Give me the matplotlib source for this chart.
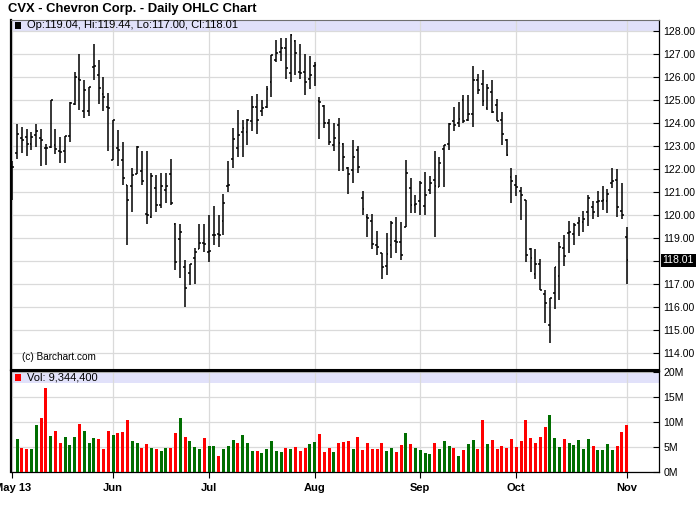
import matplotlib
matplotlib.use("Agg")
import matplotlib.pyplot as plt
from matplotlib.patches import Rectangle
from matplotlib.transforms import blended_transform_factory
import numpy as np

plt.rcParams["font.family"] = ["Liberation Sans", "DejaVu Sans"]

TITLE = "CVX - Chevron Corp. - Daily OHLC Chart"
MONTH_POS = [0, 21, 41, 63, 85, 105, 128]
MONTH_LABELS = ["May 13", "Jun", "Jul", "Aug", "Sep", "Oct", "Nov"]

OPENS = [
    121.01, 122.69, 123.35, 123.38, 123.06, 123.44, 123.35, 122.88, 122.94, 123.01,
    122.76, 122.76, 123.42, 124.81, 125.90, 124.52, 124.52, 126.42, 126.09, 125.25,
    124.69, 122.38, 122.91, 122.37, 121.29, 121.25, 121.77, 121.89, 120.01, 119.91,
    121.16, 120.43, 121.06, 121.77, 119.58, 118.94, 117.72, 117.47, 118.12, 118.50,
    118.77, 118.38, 119.10, 119.16, 119.70, 121.23, 122.40, 122.88, 123.57, 123.57,
    124.08, 124.69, 124.52, 124.66, 125.76, 126.74, 127.07, 127.26, 126.15, 127.55,
    126.20, 126.20, 125.90, 126.44, 124.93, 124.74, 124.00, 123.03, 123.89, 123.06,
    122.03, 121.92, 122.79, 120.72, 119.91, 119.70, 118.67, 118.31, 117.75, 118.67,
    118.85, 118.82, 119.48, 121.16, 120.43, 120.57, 120.35, 121.08, 121.52, 121.20,
    122.84, 123.06, 124.08, 123.96, 124.98, 124.11, 124.37, 125.86, 125.69, 124.63,
    125.32, 124.78, 124.11, 123.25, 121.62, 121.27, 121.04, 120.62, 118.50, 117.40,
    117.87, 116.56, 115.20, 116.59, 117.33, 118.56, 119.18, 119.14, 119.62, 119.67,
    120.13, 120.31, 120.54, 120.57, 120.57, 121.37, 121.52, 120.16, 119.04,
]
HIGHS = [
    122.32, 123.93, 123.82, 123.71, 123.60, 123.93, 123.70, 123.08, 125.00, 123.71,
    123.38, 123.42, 124.88, 126.21, 127.00, 125.83, 125.54, 127.41, 126.74, 126.00,
    125.30, 124.13, 123.67, 123.14, 121.29, 122.02, 122.98, 122.76, 122.76, 121.81,
    121.74, 121.81, 121.79, 122.43, 119.62, 119.58, 118.02, 117.87, 118.53, 119.58,
    119.58, 120.00, 120.37, 120.00, 120.90, 122.32, 123.76, 124.54, 124.11, 124.15,
    125.16, 125.25, 125.00, 125.61, 126.93, 127.61, 127.66, 127.66, 127.85, 127.61,
    127.41, 126.97, 126.88, 126.63, 125.10, 124.76, 124.15, 123.96, 124.19, 123.10,
    122.06, 123.24, 122.98, 121.01, 120.02, 120.02, 119.30, 118.32, 119.21, 119.72,
    119.91, 119.67, 122.37, 121.59, 120.86, 121.48, 121.86, 121.67, 122.76, 122.50,
    123.03, 124.00, 124.66, 124.88, 125.22, 125.22, 126.44, 126.12, 126.27, 125.66,
    125.86, 125.03, 124.47, 123.27, 122.03, 121.74, 121.19, 120.65, 118.56, 118.50,
    118.06, 116.70, 116.37, 117.73, 118.80, 119.09, 119.72, 119.62, 119.88, 120.16,
    120.83, 120.60, 121.04, 121.23, 121.13, 122.03, 122.00, 121.38, 119.44,
]
LOWS = [
    120.64, 122.43, 122.69, 122.53, 122.81, 122.95, 122.12, 122.16, 122.91, 122.62,
    122.25, 122.25, 123.17, 124.78, 124.56, 124.20, 124.30, 125.83, 124.81, 124.52,
    122.76, 122.38, 122.10, 121.29, 118.67, 120.10, 121.77, 121.29, 119.58, 119.83,
    120.09, 120.28, 120.52, 120.43, 117.58, 117.26, 115.99, 116.92, 117.00, 118.50,
    118.38, 117.94, 118.67, 118.57, 119.11, 120.98, 122.03, 122.50, 122.50, 123.03,
    123.64, 123.52, 124.30, 124.63, 125.10, 126.63, 126.68, 125.90, 125.76, 126.08,
    125.90, 125.20, 125.47, 125.61, 123.30, 123.76, 123.01, 122.76, 121.89, 121.89,
    120.89, 121.37, 121.81, 119.99, 119.01, 118.50, 118.26, 117.21, 117.39, 118.09,
    118.31, 118.04, 119.48, 120.06, 120.06, 119.96, 119.96, 120.89, 119.01, 121.20,
    121.20, 122.79, 123.64, 123.79, 124.00, 124.08, 123.79, 125.25, 124.74, 124.56,
    124.41, 124.08, 123.01, 122.54, 120.50, 120.79, 119.77, 117.94, 117.48, 117.19,
    116.70, 115.29, 114.41, 115.90, 116.30, 117.76, 118.31, 118.67, 119.08, 119.26,
    119.50, 119.80, 119.90, 120.20, 120.06, 121.16, 119.90, 119.81, 117.00,
]
CLOSES = [
    122.08, 123.49, 123.23, 123.06, 123.38, 123.64, 123.24, 122.91, 124.99, 122.84,
    122.70, 123.40, 124.84, 125.98, 125.86, 125.42, 125.54, 126.44, 125.51, 125.13,
    124.63, 124.10, 122.79, 121.59, 120.62, 121.71, 122.94, 121.48, 119.96, 121.67,
    120.43, 121.23, 121.23, 120.50, 117.94, 119.26, 116.80, 117.83, 118.35, 118.75,
    118.70, 118.40, 119.13, 119.10, 120.50, 121.30, 123.27, 123.44, 123.76, 124.11,
    124.69, 124.11, 124.63, 125.47, 126.93, 127.03, 127.26, 126.39, 127.80, 127.03,
    126.15, 125.76, 126.05, 126.49, 124.88, 123.98, 123.17, 123.35, 123.10, 122.50,
    121.77, 122.50, 122.06, 120.25, 119.87, 118.70, 118.60, 117.71, 118.28, 119.62,
    118.82, 118.26, 121.81, 120.40, 120.46, 121.37, 120.86, 121.37, 121.23, 122.22,
    123.03, 123.93, 123.89, 124.15, 124.05, 124.37, 125.83, 125.42, 124.95, 125.51,
    124.47, 124.08, 123.49, 122.59, 121.48, 121.19, 120.83, 118.23, 118.12, 117.85,
    116.70, 116.15, 116.37, 117.70, 118.60, 118.18, 119.26, 119.55, 119.70, 119.81,
    120.72, 120.13, 120.60, 120.64, 120.91, 121.48, 120.31, 119.96, 118.01,
]

# volume in millions, bars 1..128 (first price bar has no volume bar)
VOLUMES = [
    6.47, 4.67, 4.47, 4.47, 9.27, 10.67, 16.87, 7.07, 8.07, 5.67,
    6.87, 5.27, 6.87, 9.47, 8.07, 5.67, 6.67, 6.47, 4.47, 8.07,
    7.27, 7.67, 7.87, 10.27, 6.07, 5.67, 4.67, 5.47, 4.67, 4.47,
    4.07, 4.67, 4.67, 7.67, 10.67, 6.87, 6.07, 4.87, 4.47, 6.67,
    5.07, 5.07, 3.07, 4.47, 5.07, 6.27, 5.67, 7.27, 5.67, 4.07,
    4.07, 3.67, 4.47, 6.07, 4.07, 3.87, 4.67, 4.47, 4.87, 4.07,
    4.67, 5.47, 5.87, 7.47, 3.87, 4.67, 3.87, 5.67, 5.87, 6.07,
    4.47, 6.87, 4.27, 5.67, 4.47, 4.47, 5.67, 4.07, 4.67, 3.87,
    5.27, 7.67, 5.47, 4.67, 4.27, 3.67, 3.47, 5.67, 4.47, 6.07,
    5.07, 4.67, 3.07, 4.27, 5.47, 6.27, 4.47, 10.27, 5.47, 6.27,
    4.47, 5.07, 4.67, 6.47, 4.87, 6.07, 10.27, 6.67, 5.67, 6.87,
    8.87, 11.27, 6.67, 4.87, 6.47, 5.67, 5.27, 6.27, 4.47, 6.47,
    5.07, 4.27, 4.27, 5.47, 4.27, 5.07, 7.87, 9.3444,
]
# g = up day (green), r = down day (red), same order as VOLUMES
VOL_COLORS = [
    "grrggrrgrr", "gggrgggrrr", "grrrggrrgr", "ggrrgrgggr", "ggrgggrggg",
    "rgggggrgrr", "rggrrrgrrr", "grrrrrrggr", "rgrggggrgg", "grgrggrrgr",
    "rrrrrrrrrr", "rgggrggggg", "rggggrrr",
]
VOL_LABEL = "Vol: 9,344,400"

GREEN = "#006e00"
RED = "#ff0000"
GRID = "#dadada"
BAND = "#e1e1fa"
W, H = 700, 512


def fx(x):
    return x / W


def fy(y):
    return 1 - y / H


def draw_price(ax):
    x = np.arange(len(OPENS))
    ax.axhspan(128.0, 128.46, color=BAND, zorder=0, lw=0)
    ax.vlines(x, LOWS, HIGHS, color="black", lw=1.1, zorder=3)
    ax.hlines(OPENS, x - 0.38, x, color="black", lw=1.1, zorder=3)
    ax.hlines(CLOSES, x, x + 0.38, color="black", lw=1.1, zorder=3)

    ax.set_xlim(-0.33, 134.8)
    ax.set_ylim(113.24, 128.46)
    ticks = list(range(114, 129))
    ax.set_yticks(ticks)
    ax.set_yticklabels(["" if t == 118 else f"{t:.2f}" for t in ticks])
    ax.yaxis.tick_right()
    ax.tick_params(axis="y", direction="in", length=4, width=0.8, labelsize=7.6, pad=3)
    ax.set_xticks(MONTH_POS)
    ax.tick_params(axis="x", bottom=False, labelbottom=False)
    ax.grid(color=GRID, lw=0.9, zorder=0)
    ax.set_axisbelow(True)

    for side in ["left", "right", "bottom", "top"]:
        ax.spines[side].set_color("black")
    ax.spines["left"].set_linewidth(1.6)
    ax.spines["right"].set_linewidth(0.9)
    ax.spines["bottom"].set_linewidth(1.5)
    ax.spines["top"].set_color("#707070")
    ax.spines["top"].set_linewidth(0.8)

    trans = blended_transform_factory(ax.transAxes, ax.transData)
    ax.text(1.005, CLOSES[-1], f"{CLOSES[-1]:.2f}", transform=trans, color="white", fontsize=7.6,
            va="center", ha="left", bbox=dict(facecolor="black", edgecolor="none", pad=1.2))
    ax.text(0.017, 113.8, "(c) Barchart.com", transform=trans, fontsize=7.2, va="center")


def draw_volume(ax):
    x = np.arange(1, len(VOLUMES) + 1)
    flags = "".join(VOL_COLORS)
    colors = [GREEN if c == "g" else RED for c in flags]
    ax.axhspan(17.8, 20.2, color=BAND, zorder=0, lw=0)
    ax.bar(x, VOLUMES, width=0.62, color=colors, zorder=3)
    ax.set_xlim(-0.33, 134.8)
    ax.set_ylim(0, 20.2)
    ax.set_yticks([0, 5, 10, 15, 20])
    ax.set_yticklabels(["0M", "5M", "10M", "15M", "20M"])
    ax.yaxis.tick_right()
    ax.tick_params(axis="y", direction="in", length=4, width=0.8, labelsize=7.6, pad=3)
    ax.set_xticks(MONTH_POS)
    ax.set_xticklabels(MONTH_LABELS, fontweight="bold", fontsize=8)
    ax.tick_params(axis="x", direction="out", length=4, width=0.8, pad=4)
    ax.grid(color=GRID, lw=0.9, zorder=0)
    ax.set_axisbelow(True)
    for side in ["left", "right", "bottom", "top"]:
        ax.spines[side].set_color("black")
    ax.spines["left"].set_linewidth(1.6)
    ax.spines["right"].set_linewidth(0.9)
    ax.spines["bottom"].set_linewidth(0.9)
    ax.spines["top"].set_linewidth(1.0)


def main():
    fig = plt.figure(figsize=(7, 5.12), dpi=100)
    ax = fig.add_axes([fx(10.7), fy(370), fx(659.3) - fx(10.7), fy(20) - fy(370)])
    ax2 = fig.add_axes([fx(10.7), fy(471.5), fx(659.3) - fx(10.7), fy(371) - fy(471.5)])
    draw_price(ax)
    draw_volume(ax2)

    fig.text(fx(8), fy(9), TITLE, fontsize=9.4, fontweight="bold", va="center", ha="left")
    legend = f"Op:{OPENS[-1]:.2f}, Hi:{HIGHS[-1]:.2f}, Lo:{LOWS[-1]:.2f}, Cl:{CLOSES[-1]:.2f}"
    fig.add_artist(Rectangle((fx(15), fy(29)), fx(6), 7 / H, transform=fig.transFigure,
                             facecolor="black", edgecolor="none"))
    fig.text(fx(27), fy(25.5), legend, fontsize=8, va="center", ha="left")
    fig.add_artist(Rectangle((fx(15), fy(381)), fx(6), 7 / H, transform=fig.transFigure,
                             facecolor=RED, edgecolor="none"))
    fig.text(fx(27), fy(377.5), VOL_LABEL, fontsize=8, va="center", ha="left")

    fig.savefig("out.png", dpi=100)
    plt.close(fig)


if __name__ == "__main__":
    main()
